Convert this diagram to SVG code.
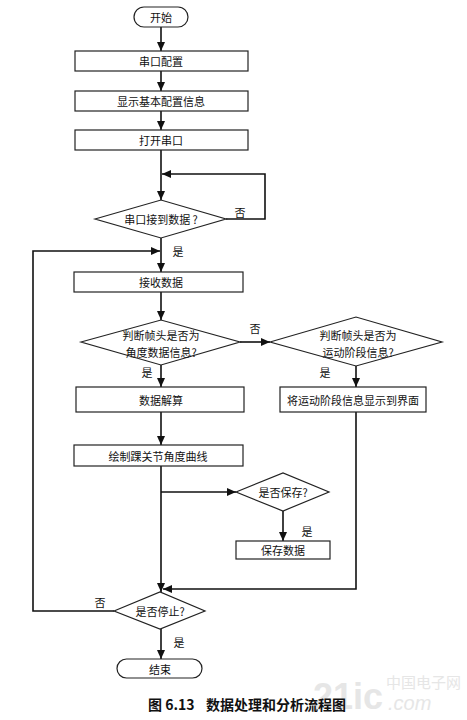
<svg xmlns="http://www.w3.org/2000/svg" width="467" height="720" viewBox="0 0 467 720">
<style>
.box{fill:#fff;stroke:#222;stroke-width:1.2}
.ln{fill:none;stroke:#111;stroke-width:1.6}
.t{font-family:"Noto Sans CJK SC","Noto Sans",sans-serif;font-size:11px;fill:#111;text-anchor:middle;dominant-baseline:central}
.lb{font-family:"Noto Sans CJK SC","Noto Sans",sans-serif;font-size:11px;fill:#111;text-anchor:middle;dominant-baseline:central}
.cap{font-family:"Noto Sans CJK SC","Noto Sans",sans-serif;font-size:14px;font-weight:bold;fill:#111}
.wm{font-family:"Liberation Sans","Noto Sans CJK SC",sans-serif;fill:#e6e6e6}
</style>
<defs>
<marker id="ah" markerUnits="userSpaceOnUse" markerWidth="10" markerHeight="8" refX="9" refY="4" orient="auto">
<path d="M0,0 L9,4 L0,8 Z" fill="#111"/>
</marker>
</defs>
<rect width="467" height="720" fill="#fff"/>

<g id="watermark">
<text class="wm" x="313" y="709" font-size="36" font-weight="bold">21ic</text>
<text class="wm" x="386" y="688" font-size="15">中国电子网</text>
<text class="wm" x="388" y="710" font-size="20" font-style="italic">.com</text>
</g>

<g id="connectors">
<path class="ln" d="M161,27 V51" marker-end="url(#ah)"/>
<path class="ln" d="M161,71 V91" marker-end="url(#ah)"/>
<path class="ln" d="M161,111 V130" marker-end="url(#ah)"/>
<path class="ln" d="M161,150 V200" marker-end="url(#ah)"/>
<path class="ln" d="M226,219 H265 V174 H162" marker-end="url(#ah)"/>
<path class="ln" d="M161,238 V272" marker-end="url(#ah)"/>
<path class="ln" d="M114,611 H33 V251 H160" marker-end="url(#ah)"/>
<path class="ln" d="M161,292 V320" marker-end="url(#ah)"/>
<path class="ln" d="M240,342 H270" marker-end="url(#ah)"/>
<path class="ln" d="M161,365 V387" marker-end="url(#ah)"/>
<path class="ln" d="M356,366 V387" marker-end="url(#ah)"/>
<path class="ln" d="M161,412 V445" marker-end="url(#ah)"/>
<path class="ln" d="M161,466 V592" marker-end="url(#ah)"/>
<path class="ln" d="M161,492 H236" marker-end="url(#ah)"/>
<path class="ln" d="M283,511 V541" marker-end="url(#ah)"/>
<path class="ln" d="M356,412 V589 H163" marker-end="url(#ah)"/>
<path class="ln" d="M161,629 V659" marker-end="url(#ah)"/>
</g>

<g id="labels">
<text class="lb" x="240" y="212">否</text>
<text class="lb" x="178" y="251">是</text>
<text class="lb" x="255" y="328">否</text>
<text class="lb" x="147" y="372">是</text>
<text class="lb" x="325" y="372">是</text>
<text class="lb" x="307" y="531">是</text>
<text class="lb" x="100" y="602">否</text>
<text class="lb" x="179" y="642">是</text>
</g>

<g id="start"><rect class="box" x="134" y="7" width="54" height="20" rx="10"/><text class="t" x="161" y="17">开始</text></g>
<g id="config"><rect class="box" x="75" y="51" width="173" height="20"/><text class="t" x="161" y="61">串口配置</text></g>
<g id="showinfo"><rect class="box" x="75" y="91" width="173" height="20"/><text class="t" x="161" y="101">显示基本配置信息</text></g>
<g id="openport"><rect class="box" x="75" y="130" width="173" height="20"/><text class="t" x="161" y="140">打开串口</text></g>
<g id="dataReceived"><polygon class="box" points="95,219 161,200 226,219 161,238"/><text class="t" x="161" y="219">串口接到数据 ?</text></g>
<g id="receive"><rect class="box" x="74" y="272" width="169" height="20"/><text class="t" x="161" y="282">接收数据</text></g>
<g id="isAngle"><polygon class="box" points="81,342 161,320 240,342 161,365"/><text class="t" x="161" y="335">判断帧头是否为</text><text class="t" x="161" y="352">角度数据信息?</text></g>
<g id="isStage"><polygon class="box" points="270,342 356,317 442,342 356,366"/><text class="t" x="358" y="335">判断帧头是否为</text><text class="t" x="358" y="352">运动阶段信息?</text></g>
<g id="solve"><rect class="box" x="76" y="387" width="168" height="25"/><text class="t" x="161" y="399.5">数据解算</text></g>
<g id="showStage"><rect class="box" x="280" y="387" width="146" height="25"/><text class="t" x="353" y="399.5">将运动阶段信息显示到界面</text></g>
<g id="plot"><rect class="box" x="74" y="445" width="169" height="21"/><text class="t" x="158" y="455.5">绘制踝关节角度曲线</text></g>
<g id="isSave"><polygon class="box" points="236,492 283,473 329,492 283,511"/><text class="t" x="283" y="492">是否保存?</text></g>
<g id="save"><rect class="box" x="236" y="541" width="94" height="18"/><text class="t" x="283" y="550">保存数据</text></g>
<g id="isStop"><polygon class="box" points="114,611 160,592 205,611 160,629"/><text class="t" x="160" y="610.5">是否停止?</text></g>
<g id="end"><rect class="box" x="117" y="659" width="85" height="19" rx="9.5"/><text class="t" x="160" y="668.5">结束</text></g>

<text class="cap" x="148" y="710">图 6.13<tspan x="206">数据处理和分析流程图</tspan></text>
</svg>
